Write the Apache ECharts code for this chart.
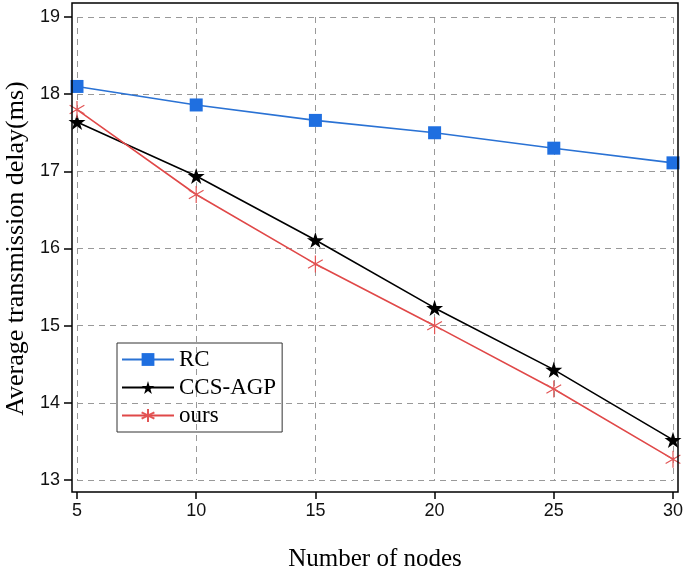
<!DOCTYPE html>
<html>
<head>
<meta charset="utf-8">
<script src="https://cdn.jsdelivr.net/npm/echarts@6/dist/echarts.min.js"></script>
<style>
  html, body { margin: 0; padding: 0; background: #fff; }
  #main { width: 685px; height: 567px; }
</style>
</head>
<body>
<div id="main"></div>
<script>
// 节点数
var nodes = [5, 10, 15, 20, 25, 30];
// 平均传输时延 (ms)
var rc = [18.1, 17.86, 17.66, 17.5, 17.3, 17.11];
var ccsAgp = [17.64, 16.94, 16.11, 15.23, 14.43, 13.52];
var ours = [17.8, 16.7, 15.8, 15.0, 14.18, 13.27];

var starPath = 'path://M50,0 L61,35 L98,35 L68,57 L79,91 L50,70 L21,91 L32,57 L2,35 L39,35 Z';
var asteriskPath = 'path://M0,-10 L0,10 M-8.66,-5 L8.66,5 M-8.66,5 L8.66,-5';

function pairs(xs, ys) {
    return xs.map(function (x, i) { return [x, ys[i]]; });
}

var chart = echarts.init(document.getElementById('main'));

var option = {
    backgroundColor: '#fff',
    animation: false,
    grid: {
        left: 77,
        right: 12,
        top: 17,
        bottom: 87,
        containLabel: false,
        outerBoundsMode: 'none'
    },
    legend: {
        orient: 'vertical',
        left: 117,
        top: 343,
        itemWidth: 52,
        itemHeight: 16,
        itemGap: 5,
        padding: [5, 6, 5, 4],
        borderColor: '#333',
        borderWidth: 1,
        borderRadius: 0,
        textStyle: {
            fontFamily: 'Liberation Serif',
            fontSize: 23,
            color: '#000'
        },
        data: ['RC', 'CCS-AGP', 'ours']
    },
    xAxis: {
        type: 'value',
        min: 5,
        max: 30,
        interval: 5,
        offset: 12,
        name: 'Number of nodes',
        nameLocation: 'middle',
        nameGap: 55,
        nameTextStyle: {
            fontFamily: 'Liberation Serif',
            fontSize: 25,
            color: '#000'
        },
        axisLine: { show: false },
        axisTick: {
            show: true,
            inside: false,
            length: 7,
            lineStyle: { color: '#000', width: 1.5 }
        },
        axisLabel: {
            fontFamily: 'Liberation Sans',
            fontSize: 18,
            color: '#111',
            margin: 10
        },
        splitLine: {
            show: true,
            lineStyle: { color: '#999', type: [6, 5], width: 1 }
        }
    },
    yAxis: {
        type: 'value',
        min: 13,
        max: 19,
        interval: 1,
        offset: 5,
        name: 'Average transmission delay(ms)',
        nameLocation: 'middle',
        nameGap: 39,
        nameTextStyle: {
            fontFamily: 'Liberation Serif',
            fontSize: 26,
            color: '#000'
        },
        axisLine: { show: false },
        axisTick: {
            show: true,
            inside: false,
            length: 8,
            lineStyle: { color: '#000', width: 1.5 }
        },
        axisLabel: {
            fontFamily: 'Liberation Sans',
            fontSize: 18,
            color: '#111',
            margin: 12
        },
        splitLine: {
            show: true,
            lineStyle: { color: '#999', type: [6, 5], width: 1 }
        }
    },
    graphic: [{
        type: 'rect',
        silent: true,
        z: 100,
        shape: { x: 72, y: 3, width: 606, height: 489 },
        style: { fill: 'none', stroke: '#000', lineWidth: 1.5 }
    }],
    series: [
        {
            name: 'RC',
            type: 'line',
            data: pairs(nodes, rc),
            symbol: 'rect',
            symbolSize: 13,
            itemStyle: { color: '#1f6fe0' },
            lineStyle: { color: '#2a72d4', width: 1.6 },
            z: 3
        },
        {
            name: 'CCS-AGP',
            type: 'line',
            data: pairs(nodes, ccsAgp),
            symbol: starPath,
            symbolSize: 17,
            symbolKeepAspect: true,
            itemStyle: { color: '#000' },
            lineStyle: { color: '#000', width: 1.6 },
            z: 4
        },
        {
            name: 'ours',
            type: 'line',
            data: pairs(nodes, ours),
            symbol: asteriskPath,
            symbolSize: 17,
            symbolKeepAspect: true,
            itemStyle: { color: '#e25555', borderColor: '#e25555', borderWidth: 1.2 },
            lineStyle: { color: '#e04848', width: 1.6 },
            z: 5
        }
    ]
};

chart.setOption(option);
</script>
</body>
</html>
